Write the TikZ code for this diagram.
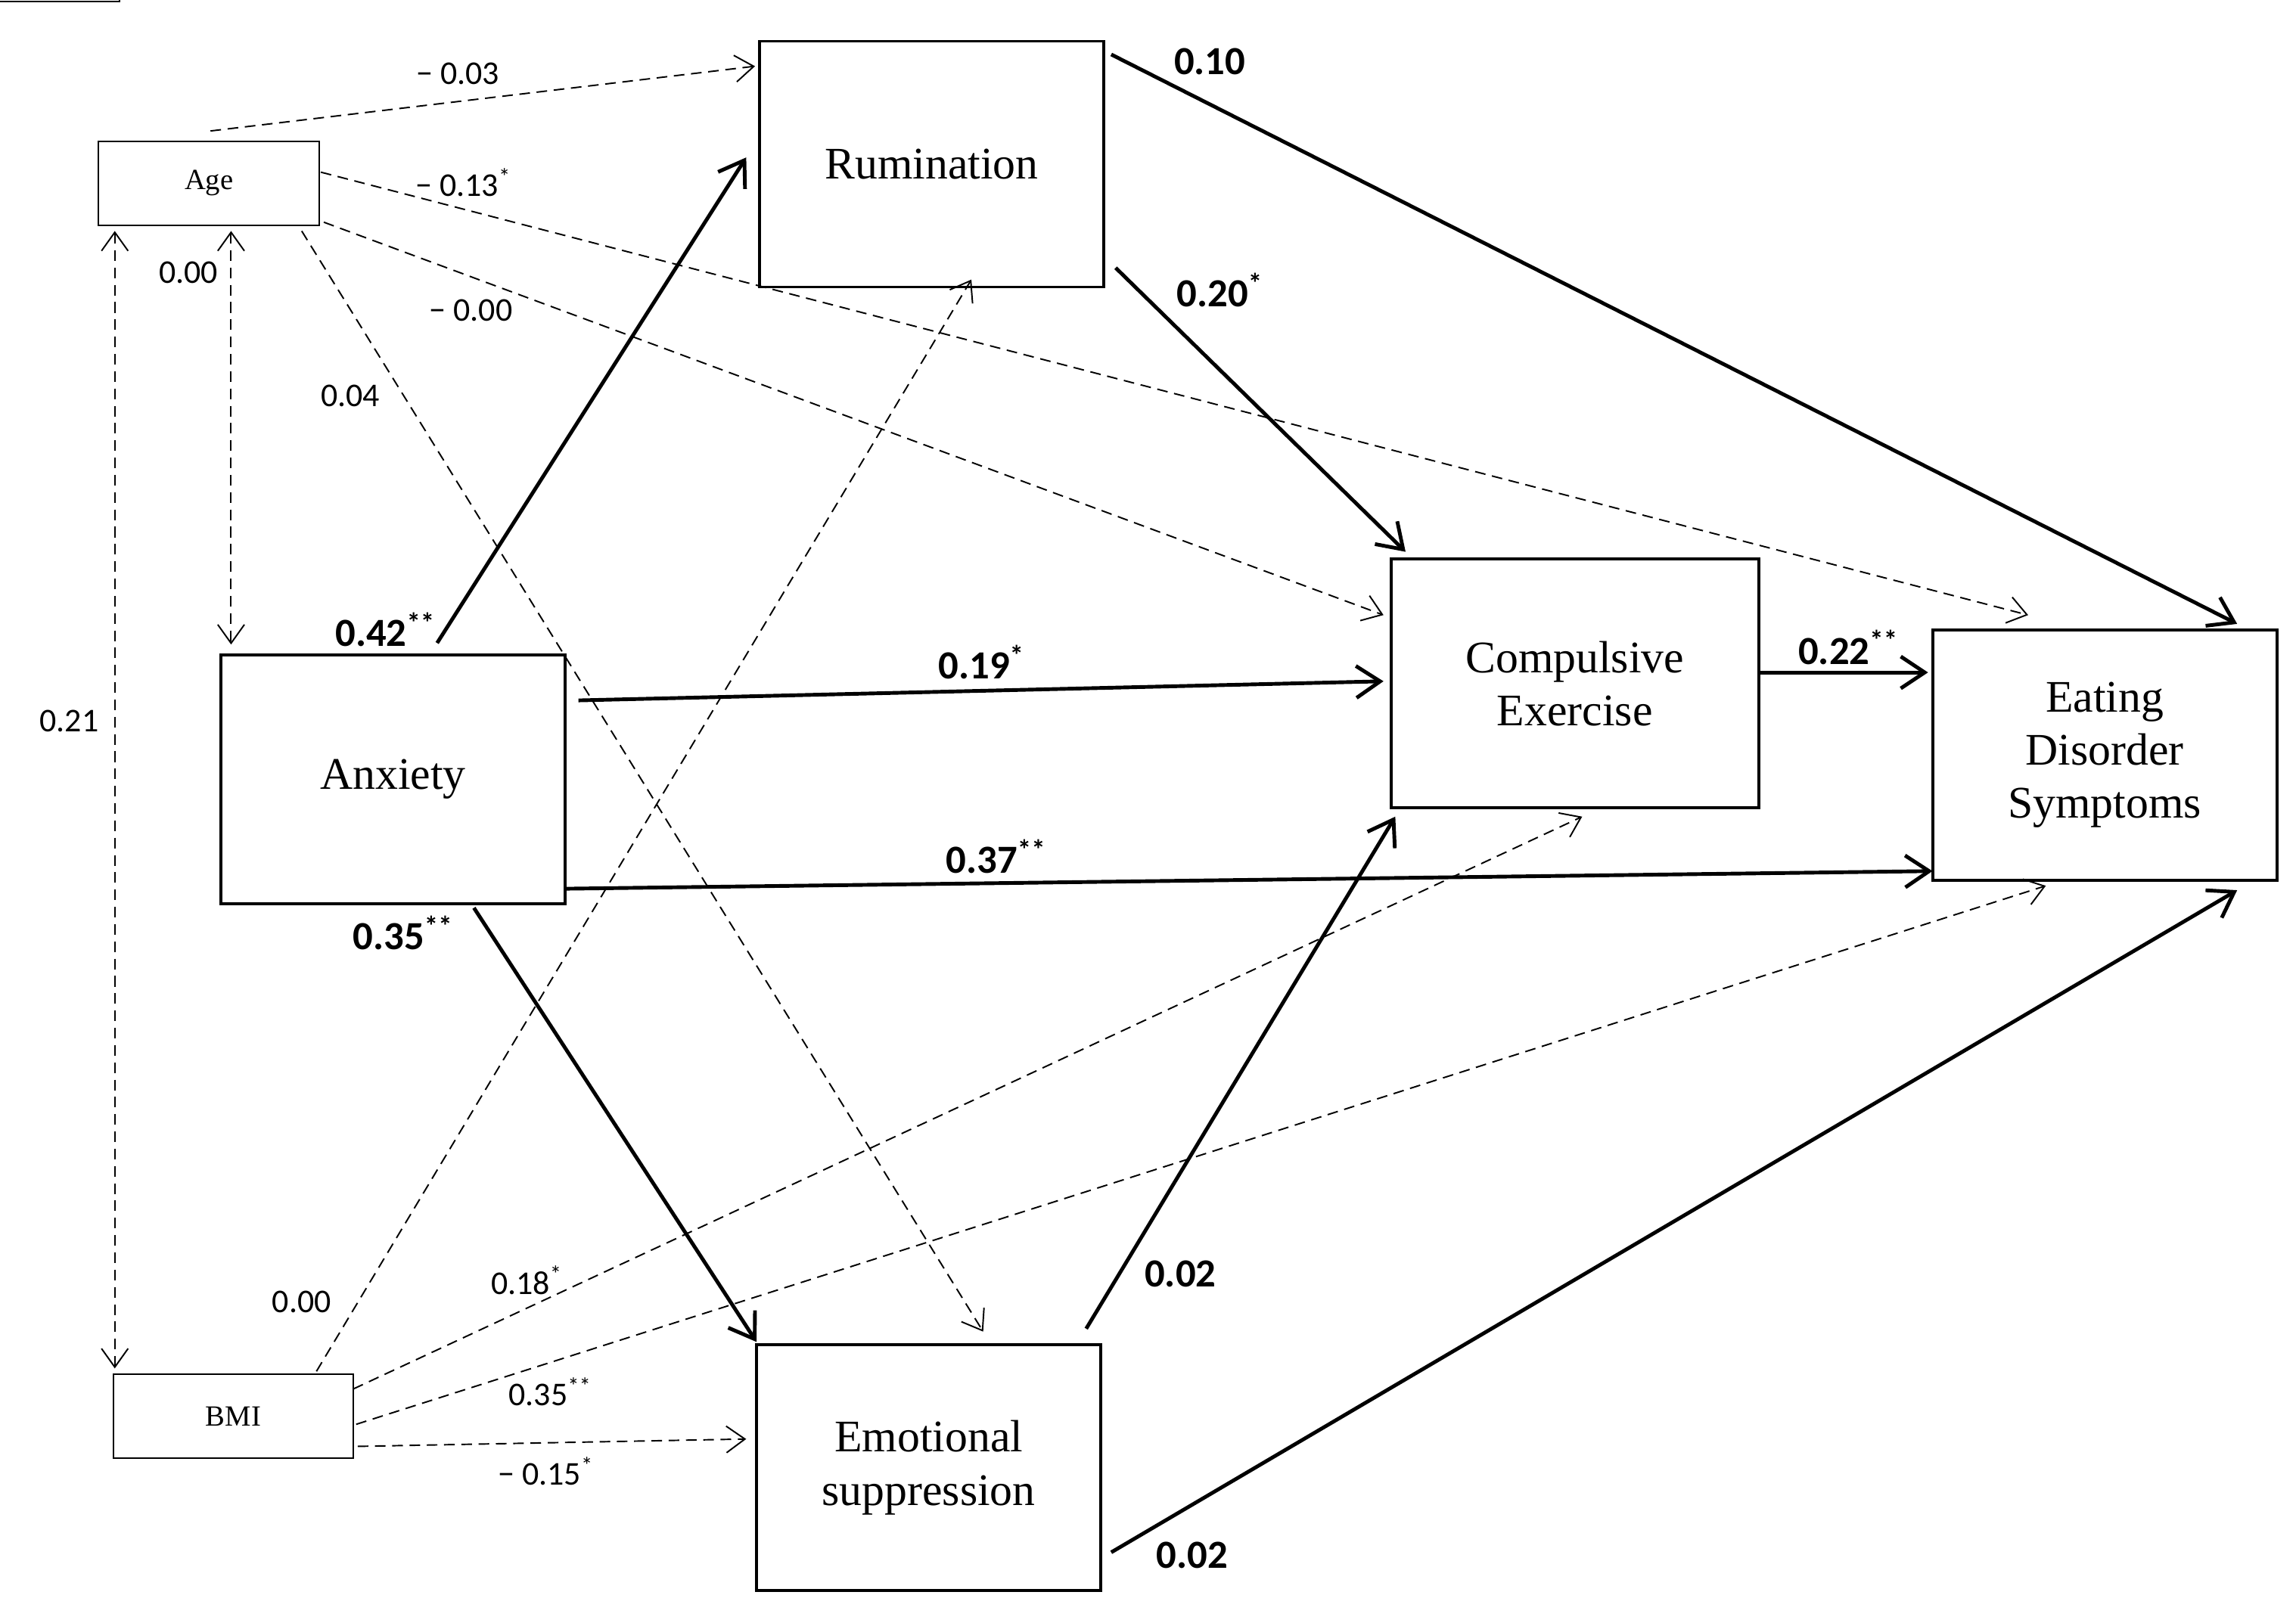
\documentclass[tikz,border=0pt]{standalone}
\usepackage{fontspec}
\setmainfont{Liberation Serif}
\newfontfamily\lab{Carlito}
\usetikzlibrary{arrows.meta,calc}
\begin{document}
\begin{tikzpicture}[x=0.01945cm,y=-0.01945cm,
 big/.style={draw,line width=1.1pt,align=center,font=\fontsize{17}{20}\selectfont,inner sep=0pt},
 small/.style={draw,line width=0.6pt,font=\fontsize{11}{13}\selectfont,inner sep=0pt},
 sol/.style={line width=1.4pt,-{Straight Barb[length=9pt,width=12pt]}},
 das/.style={line width=0.55pt,dash pattern=on 4pt off 2.5pt,-{Straight Barb[length=7pt,width=10pt]}},
 dd/.style={das,{Straight Barb[length=7pt,width=10pt]}-{Straight Barb[length=7pt,width=10pt]}},
 bl/.style={font=\lab\bfseries\fontsize{15}{17}\selectfont,inner sep=0pt},
 sl/.style={font=\lab\fontsize{12.5}{14}\selectfont,inner sep=0pt}]
\useasboundingbox (0,0) rectangle (1560,1103);
\node[small,minimum width=150\pgflinewidth] at (0,0) {};
\node[small,minimum width=2.92cm,minimum height=1.11cm] (age) at (142,124.5) {Age};
\node[big,minimum width=4.55cm,minimum height=3.25cm] (rum) at (633,111.5) {Rumination};
\node[big,minimum width=4.55cm,minimum height=3.29cm] (anx) at (267,529.5) {Anxiety};
\node[big,minimum width=4.86cm,minimum height=3.29cm] (ce) at (1070,464.5) {Compulsive\\Exercise};
\node[big,minimum width=4.55cm,minimum height=3.31cm] (eds) at (1430,513) {Eating\\Disorder\\Symptoms};
\node[big,minimum width=4.55cm,minimum height=3.25cm] (es) at (631,997.5) {Emotional\\suppression};
\node[small,minimum width=3.17cm,minimum height=1.11cm] (bmi) at (158.5,962.5) {BMI};
% solid
\draw[sol] ($(anx)+(30,-92.5)$) -- ($(rum)+(-126,-4.5)$);
\draw[sol] ($(anx)+(126,-53.5)$) -- ($(ce)+(-130,-1.5)$);
\draw[sol] ($(anx)+(117,74.5)$) -- ($(eds)+(-117,79)$);
\draw[sol] ($(anx)+(55,87.5)$) -- ($(es)+(-117,-85.5)$);
\draw[sol] ($(rum)+(122,-74.5)$) -- ($(eds)+(90,-89)$);
\draw[sol] ($(rum)+(125,70.5)$) -- ($(ce)+(-115,-89.5)$);
\draw[sol] ($(ce)+(125,-7.5)$) -- ($(eds)+(-120,-56)$);
\draw[sol] ($(es)+(107,-94.5)$) -- ($(ce)+(-122,90.5)$);
\draw[sol] ($(es)+(124,57.5)$) -- ($(eds)+(90,92)$);
% dashed
\draw[das] ($(age)+(1,-35.5)$) -- ($(rum)+(-120,-66.5)$);
\draw[das] ($(age)+(76,-7.5)$) -- ($(eds)+(-52,-95)$);
\draw[das] ($(age)+(78,26.5)$) -- ($(ce)+(-130,-46.5)$);
\draw[das] ($(age)+(63,32.5)$) -- ($(es)+(37,-92.5)$);
\draw[dd] ($(age)+(15,32.5)$) -- ($(anx)+(-110,-91.5)$);
\draw[dd] ($(age)+(-64,32.5)$) -- ($(bmi)+(-80.5,-32.5)$);
\draw[das] ($(bmi)+(56.5,-30.5)$) -- ($(rum)+(27,78.5)$);
\draw[das] ($(bmi)+(81.5,-18.5)$) -- ($(ce)+(5,90.5)$);
\draw[das] ($(bmi)+(83.5,5.5)$) -- ($(eds)+(-40,89)$);
\draw[das] ($(bmi)+(84.5,20.5)$) -- ($(es)+(-124,-19.5)$);
% labels
\node[bl] (l1) at (262,428) {0.42\textsuperscript{**}};
\node[bl] (l2) at (667,450) {0.19\textsuperscript{*}};
\node[bl] (l3) at (677,582) {0.37\textsuperscript{**}};
\node[bl] (l4) at (274,634) {0.35\textsuperscript{**}};
\node[bl] (l5) at (822,42) {0.10};
\node[bl] (l6) at (829,197) {0.20\textsuperscript{*}};
\node[bl] (l7) at (1256,440) {0.22\textsuperscript{**}};
\node[bl] (l8) at (802,866) {0.02};
\node[bl] (l9) at (810,1057) {0.02};
\node[sl] (s1) at (311,50) {− 0.03};
\node[sl] (s2) at (315,124) {− 0.13\textsuperscript{*}};
\node[sl] (s3) at (320,211) {− 0.00};
\node[sl] (s4) at (238,269) {0.04};
\node[sl] (s5) at (128,185) {0.00};
\node[sl] (s6) at (47,490) {0.21};
\node[sl] (s7) at (205,885) {0.00};
\node[sl] (s8) at (358,870) {0.18\textsuperscript{*}};
\node[sl] (s9) at (374,946) {0.35\textsuperscript{**}};
\node[sl] (s10) at (371,1000) {− 0.15\textsuperscript{*}};
\end{tikzpicture}
\end{document}
